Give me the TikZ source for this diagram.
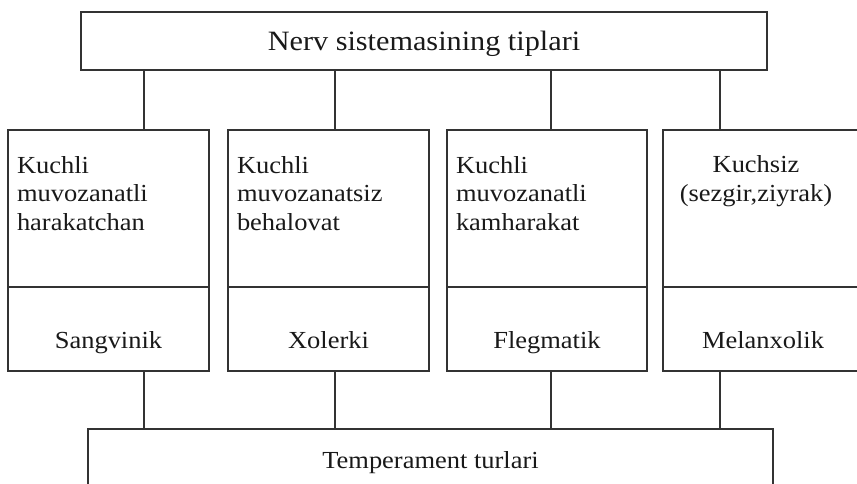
\documentclass[tikz,border=0pt]{standalone}
\usepackage{fontspec}
\setmainfont{Liberation Serif}[FakeStretch=1.08]
\begin{document}
\begin{tikzpicture}[x=1pt,y=-1pt,
  box/.style={draw=black!80, line width=1.1pt, inner sep=0pt, outer sep=0pt, rectangle},
  conn/.style={draw=black!80, line width=1.1pt},
  txt/.style={inner sep=0pt, outer sep=0pt, font=\fontsize{24.5}{28.5}\selectfont, text=black!90},
  toptxt/.style={inner sep=0pt, outer sep=0pt, font=\fontsize{28}{32}\selectfont, text=black!90}]
\useasboundingbox (0,0) rectangle (857,484);
\clip (0,0) rectangle (857,484);
% top box
\node[box, minimum width=686pt, minimum height=58pt] (top) at (424,41) {};
\node[toptxt, anchor=base] (toplab) at (424,51) {Nerv sistemasining tiplari};
% upper boxes
\node[box, minimum width=201pt, minimum height=157pt] (b1u) at (108.5,208.5) {};
\node[box, minimum width=201pt, minimum height=157pt] (b2u) at (328.5,208.5) {};
\node[box, minimum width=200pt, minimum height=157pt] (b3u) at (547,208.5) {};
\node[box, minimum width=201pt, minimum height=157pt] (b4u) at (763.5,208.5) {};
% lower boxes
\node[box, minimum width=201pt, minimum height=84pt] (b1l) at (108.5,329) {};
\node[box, minimum width=201pt, minimum height=84pt] (b2l) at (328.5,329) {};
\node[box, minimum width=200pt, minimum height=84pt] (b3l) at (547,329) {};
\node[box, minimum width=201pt, minimum height=84pt] (b4l) at (763.5,329) {};
% bottom box (open at the bottom)
\node[box, minimum width=685pt, minimum height=71pt] (bot) at (430.5,464.5) {};
\node[txt, anchor=base] (botlab) at (430.5,468) {Temperament turlari};
% texts (anchor base = baseline of last line)
\node[txt, anchor=base west, align=left] (t1) at (17,230) {Kuchli\\muvozanatli\\harakatchan};
\node[txt, anchor=base west, align=left] (t2) at (237,230) {Kuchli\\muvozanatsiz\\behalovat};
\node[txt, anchor=base west, align=left] (t3) at (456,230) {Kuchli\\muvozanatli\\kamharakat};
\node[txt, anchor=base, align=center] (t4) at (756,201.5) {Kuchsiz\\(sezgir,ziyrak)};
\node[txt, anchor=base] (l1) at (108.5,348) {Sangvinik};
\node[txt, anchor=base] (l2) at (328.5,348) {Xolerki};
\node[txt, anchor=base] (l3) at (547,348) {Flegmatik};
\node[txt, anchor=base] (l4) at (763,348) {Melanxolik};
% connector x positions
\coordinate (c1) at (144,0);
\coordinate (c2) at (335,0);
\coordinate (c3) at (551,0);
\coordinate (c4) at (720,0);
\foreach \i in {1,2,3,4}{
  \draw[conn] (top.south -| c\i) -- (b\i u.north -| c\i);
  \draw[conn] (b\i l.south -| c\i) -- (bot.north -| c\i);
}
\end{tikzpicture}
\end{document}
